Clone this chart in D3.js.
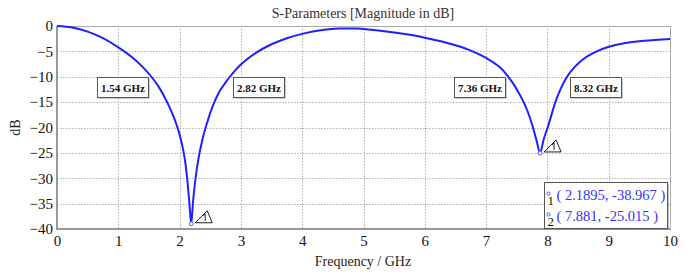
<!DOCTYPE html>
<html>
<head>
<meta charset="utf-8">
<script src="https://cdn.jsdelivr.net/npm/d3@7"></script>
<style>
  body { margin: 0; background: #fff; }
  svg text { font-family: "Liberation Serif", "DejaVu Serif", serif !important; }
  .tick text { font-size: 15px; fill: #111; }
</style>
</head>
<body>
<svg id="chart" width="694" height="274"></svg>
<script>
// S11 magnitude (dB)
const freq = [0, 0.25, 0.5, 0.75, 1.0, 1.25, 1.4, 1.54, 1.65, 1.78, 1.88, 1.96, 2.02, 2.06, 2.1, 2.13, 2.16, 2.1895,
  2.22, 2.26, 2.31, 2.37, 2.45, 2.55, 2.66, 2.74, 2.82, 2.9, 3.0, 3.1, 3.25, 3.5, 3.75, 4.0, 4.3, 4.6, 4.9, 5.0,
  5.5, 6.0, 6.5, 6.76, 7.0, 7.2, 7.28, 7.36, 7.44, 7.52, 7.6, 7.68, 7.76, 7.82, 7.881,
  7.94, 8.01, 8.13, 8.22, 8.32, 8.45, 8.6, 8.77, 9.0, 9.25, 9.5, 9.75, 10];
const sdb = [0, -0.3, -1.1, -2.4, -4.2, -6.4, -8.1, -10, -11.8, -14.6, -17.2, -19.8, -22.3, -24.5, -27.5, -30.8, -35, -38.967,
  -34.5, -30, -26, -22.5, -19, -15.5, -12.7, -11.3, -10, -8.85, -7.6, -6.55, -5.25, -3.6, -2.4, -1.55, -0.85, -0.5, -0.5, -0.6,
  -1.3, -2.3, -3.8, -4.9, -6.3, -7.9, -8.8, -10, -11.3, -12.9, -14.7, -16.9, -19.8, -22.4, -25.015,
  -22.3, -19.8, -15, -12.3, -10, -8.0, -6.4, -5.2, -4.1, -3.4, -3.0, -2.75, -2.55];

const xTicks = [0, 1, 2, 3, 4, 5, 6, 7, 8, 9, 10];
const yTicks = [0, -5, -10, -15, -20, -25, -30, -35, -40];

// -10 dB crossing labels
const bwFreqs = [1.54, 2.82, 7.36, 8.32];
const bwSide = ["left", "right", "left", "right"];

// markers (freq, dB)
const markerF = [2.1895, 7.881];
const markerDb = [-38.967, -25.015];

const svg = d3.select("#chart");
const margin = { top: 26, right: 24, bottom: 45, left: 57 };
const width = 694, height = 274;
const innerW = width - margin.left - margin.right;
const innerH = height - margin.top - margin.bottom;

const x = d3.scaleLinear().domain([0, 10]).range([margin.left, margin.left + innerW]);
const y = d3.scaleLinear().domain([-40, 0]).range([margin.top + innerH, margin.top]);

// title
svg.append("text")
  .attr("x", 363).attr("y", 18)
  .attr("text-anchor", "middle")
  .attr("font-size", 14).attr("fill", "#333")
  .text("S-Parameters [Magnitude in dB]");

// grid
const grid = svg.append("g").attr("stroke", "#b0b0b0").attr("stroke-width", 1).attr("stroke-dasharray", "1.5,1.5");
grid.selectAll("line.v").data(xTicks.slice(1, -1)).enter().append("line")
  .attr("x1", d => Math.round(x(d)) + 0.5).attr("x2", d => Math.round(x(d)) + 0.5)
  .attr("y1", y(0)).attr("y2", y(-40));
grid.selectAll("line.h").data(yTicks.slice(1, -1)).enter().append("line")
  .attr("y1", d => Math.round(y(d)) + 0.5).attr("y2", d => Math.round(y(d)) + 0.5)
  .attr("x1", x(0)).attr("x2", x(10));

// frame
svg.append("line").attr("x1", x(0)).attr("x2", x(10)).attr("y1", y(0) + 0.5).attr("y2", y(0) + 0.5)
  .attr("stroke", "#aaa");
svg.append("line").attr("x1", x(10) + 0.5).attr("x2", x(10) + 0.5).attr("y1", y(0)).attr("y2", y(-40))
  .attr("stroke", "#aaa");
svg.append("line").attr("x1", x(0)).attr("x2", x(0)).attr("y1", y(0)).attr("y2", y(-40) + 1)
  .attr("stroke", "#999").attr("stroke-width", 2);
svg.append("line").attr("x1", x(0)).attr("x2", x(10) + 1).attr("y1", y(-40)).attr("y2", y(-40))
  .attr("stroke", "#999").attr("stroke-width", 2);

// axes
const xAxis = svg.append("g")
  .attr("transform", `translate(0,${y(-40)})`)
  .call(d3.axisBottom(x).tickValues(xTicks).tickSize(0).tickPadding(6).tickFormat(d3.format("d")));
const yAxis = svg.append("g")
  .attr("transform", `translate(${x(0)},0)`)
  .call(d3.axisLeft(y).tickValues(yTicks).tickSize(0).tickPadding(4).tickFormat(d3.format("d")));
xAxis.select(".domain").remove();
yAxis.select(".domain").remove();
svg.selectAll(".tick text").style("font-family", "'Liberation Serif', serif").style("font-size", "15px");

// axis titles
svg.append("text")
  .attr("x", 363).attr("y", 266)
  .attr("text-anchor", "middle").attr("font-size", 14).attr("fill", "#222")
  .text("Frequency / GHz");
svg.append("text")
  .attr("transform", `translate(20,${margin.top + innerH / 2}) rotate(-90)`)
  .attr("text-anchor", "middle").attr("font-size", 14).attr("fill", "#222")
  .text("dB");

// curve
const pts = freq.map((f, i) => [f, sdb[i]]);
svg.append("path")
  .datum(pts)
  .attr("fill", "none")
  .attr("stroke", "#1f1fff")
  .attr("stroke-width", 2)
  .attr("d", d3.line().x(d => x(d[0])).y(d => y(d[1])).curve(d3.curveMonotoneX));

// bandwidth labels
const lbl = svg.append("g");
bwFreqs.forEach((f, i) => {
  const bw = 51, bh = 20;
  const bx = bwSide[i] === "left" ? x(f) - 3 - bw : x(f) + 3;
  const by = y(-10);
  const g = lbl.append("g").attr("transform", `translate(${Math.round(bx) + 0.5},${Math.round(by) + 0.5})`);
  g.append("rect").attr("x", 1).attr("y", 1).attr("width", bw).attr("height", bh).attr("fill", "#999");
  g.append("rect").attr("width", bw).attr("height", bh).attr("fill", "#fff").attr("stroke", "#555");
  g.append("text").attr("x", bw / 2).attr("y", 14)
    .attr("text-anchor", "middle").attr("font-size", 11).attr("font-weight", "bold").attr("fill", "#111")
    .text(f.toFixed(2) + " GHz");
});

// markers with triangle flags
markerF.forEach((f, i) => {
  const mx = x(f), my = y(markerDb[i]);
  svg.append("circle").attr("cx", mx).attr("cy", my).attr("r", 2)
    .attr("fill", "#fff").attr("stroke", "#55f").attr("stroke-width", 1);
  const t = svg.append("g").attr("transform", `translate(${mx + 4},${my - 1})`)
    .attr("fill", "none").attr("stroke", "#222").attr("stroke-width", 1);
  t.append("path").attr("d", "M0,0 L17,0 L12,-12 Z");
  t.append("path").attr("d", "M10,-2 L10,-9 L8,-7");
});

// marker readout legend
const lg = svg.append("g").attr("transform", "translate(544.5,182.5)");
lg.append("rect").attr("x", 1).attr("y", 1).attr("width", 123).attr("height", 46).attr("fill", "#888");
lg.append("rect").attr("width", 123).attr("height", 46).attr("fill", "#fff").attr("stroke", "#555");
markerF.forEach((f, i) => {
  const yy = 17 + i * 21;
  lg.append("circle").attr("cx", 4).attr("cy", yy - 6).attr("r", 1.6)
    .attr("fill", "none").attr("stroke", "#55f");
  lg.append("text").attr("x", 3).attr("y", yy + 5).attr("font-size", 13).attr("fill", "#111")
    .text(i + 1);
  lg.append("text").attr("x", 12).attr("y", yy).attr("font-size", 14.5).attr("fill", "#3333ff")
    .text(`( ${f}, ${markerDb[i]} )`);
});
</script>
</body>
</html>
